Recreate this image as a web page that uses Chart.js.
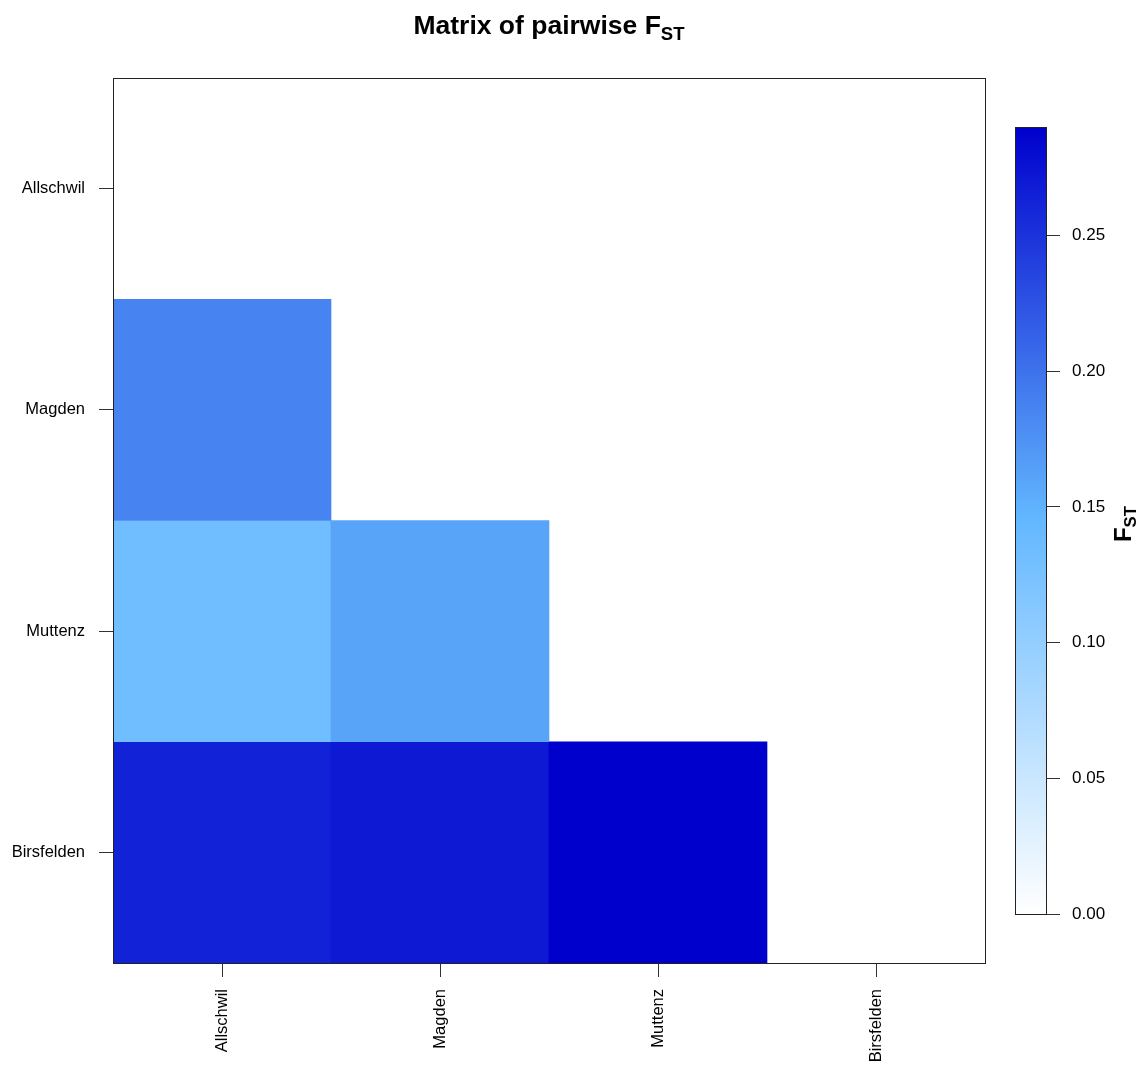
<!DOCTYPE html>
<html lang="en">
<head>
  <meta charset="UTF-8" />
  <title>Matrix of pairwise FST</title>
  <script src="https://cdn.jsdelivr.net/npm/chart.js"></script>
  <style>
    body { margin: 0; background: #fff; font-family: "Liberation Sans", Arial, sans-serif; }
    #wrap { position: relative; width: 1145px; height: 1066px; }
    #heat { position: absolute; left: 0; top: 0; }
    #bar { position: absolute; left: 1005px; top: 100px; }
    .title { position: absolute; left: 113px; width: 872px; top: 10px; text-align: center;
             font-weight: bold; font-size: 26.5px; color: #000; }
    .title sub, .legend-title sub { font-size: 0.7em; vertical-align: -0.3em; }
    .legend-title { position: absolute; left: 1090px; top: 508px; width: 70px; text-align: center;
                    font-weight: bold; font-size: 24px; transform: rotate(-90deg); color: #000; }
  </style>
</head>
<body>
<div id="wrap">
  <canvas id="heat" width="1145" height="1066"></canvas>
  <canvas id="bar" width="131" height="850"></canvas>
  <div class="title">Matrix of pairwise F<sub>ST</sub></div>
  <div class="legend-title">F<sub>ST</sub></div>
</div>

<script>
  // populations, in row / column order
  const populations = ['Allschwil', 'Magden', 'Muttenz', 'Birsfelden'];

  // lower triangle of the pairwise FST matrix (row vs earlier columns)
  const fstMagden = [0.186];
  const fstMuttenz = [0.133, 0.161];
  const fstBirsfelden = [0.263, 0.270, 0.290];
  const fstRows = [[], fstMagden, fstMuttenz, fstBirsfelden];

  // colour key
  const fstMax = 0.29;
  const keyTicks = [0, 0.05, 0.10, 0.15, 0.20, 0.25];

  const stops = [[255, 255, 255], [99, 184, 255], [0, 0, 205]];

  function fstColor(v) {
    let t = Math.max(0, Math.min(1, v / fstMax)) * 2;
    const i = t >= 1 ? 1 : 0;
    t = t - i;
    const a = stops[i], b = stops[i + 1];
    const c = a.map((x, k) => Math.round(x + (b[k] - x) * t));
    return `rgb(${c[0]}, ${c[1]}, ${c[2]})`;
  }

  const font = { family: '"Liberation Sans", Arial, sans-serif' };

  const boxPlugin = {
    id: 'box',
    afterDraw(chart) {
      const a = chart.chartArea;
      const ctx = chart.ctx;
      ctx.save();
      ctx.strokeStyle = '#222';
      ctx.lineWidth = 1;
      ctx.strokeRect(Math.round(a.left) + 0.5, Math.round(a.top) + 0.5,
        Math.round(a.right - a.left), Math.round(a.bottom - a.top));
      ctx.restore();
    }
  };

  const datasets = fstRows.slice(1).map((vals, k) => {
    const r = k + 1;
    return {
      label: populations[r],
      data: populations.map((_, c) => c < r ? [r - 0.5, r + 0.5] : null),
      backgroundColor: populations.map((_, c) => c < r ? fstColor(vals[c]) : 'rgba(0,0,0,0)'),
      borderWidth: 0,
      barPercentage: 1,
      categoryPercentage: 1
    };
  });

  new Chart(document.getElementById('heat'), {
    type: 'bar',
    data: { labels: populations, datasets },
    options: {
      responsive: false,
      animation: false,
      layout: { padding: { left: 0, top: 78, right: 160, bottom: 0 } },
      plugins: { legend: { display: false }, tooltip: { enabled: false } },
      scales: {
        x: {
          stacked: true,
          offset: true,
          border: { display: false },
          grid: { offset: false, drawOnChartArea: false, drawTicks: true, tickLength: 14, color: '#333' },
          ticks: {
            minRotation: 90, maxRotation: 90, padding: 12, color: '#000',
            font: { ...font, size: 16.5 }
          },
          afterFit: s => { s.height = 103; }
        },
        y: {
          type: 'linear',
          stacked: false,
          reverse: true,
          min: -0.5,
          max: 3.5,
          border: { display: false },
          grid: { drawOnChartArea: false, drawTicks: true, tickLength: 14, color: '#333' },
          afterBuildTicks: s => { s.ticks = populations.map((_, i) => ({ value: i })); },
          ticks: {
            padding: 14, color: '#000',
            font: { ...font, size: 16.5 },
            callback: v => populations[v]
          },
          afterFit: s => { s.width = 113; }
        }
      }
    },
    plugins: [boxPlugin]
  });

  // colour key
  new Chart(document.getElementById('bar'), {
    type: 'bar',
    data: {
      labels: ['FST'],
      datasets: [{
        data: [[0, fstMax]],
        borderWidth: 0,
        barPercentage: 1,
        categoryPercentage: 1,
        backgroundColor: ctx => {
          const chart = ctx.chart;
          const area = chart.chartArea;
          if (!area) return 'rgba(0,0,0,0)';
          const y = chart.scales.y;
          let y0 = y.getPixelForValue(0), y1 = y.getPixelForValue(fstMax);
          if (!isFinite(y0) || !isFinite(y1)) { y0 = area.bottom; y1 = area.top; }
          const g = chart.ctx.createLinearGradient(0, y0, 0, y1);
          stops.forEach((s, i) => g.addColorStop(i / (stops.length - 1), `rgb(${s.join(',')})`));
          return g;
        }
      }]
    },
    options: {
      responsive: false,
      animation: false,
      layout: { padding: { left: 10, top: 27, right: 0, bottom: 36 } },
      plugins: { legend: { display: false }, tooltip: { enabled: false } },
      scales: {
        x: { display: false, offset: true },
        y: {
          position: 'right',
          min: 0,
          max: fstMax,
          border: { display: false },
          grid: { drawOnChartArea: false, drawTicks: true, tickLength: 14, color: '#333' },
          afterBuildTicks: s => { s.ticks = keyTicks.map(v => ({ value: v })); },
          ticks: {
            padding: 12, color: '#000',
            font: { ...font, size: 17 },
            callback: v => v.toFixed(2)
          },
          afterFit: s => { s.width = 90; }
        }
      }
    },
    plugins: [boxPlugin]
  });
</script>
</body>
</html>
